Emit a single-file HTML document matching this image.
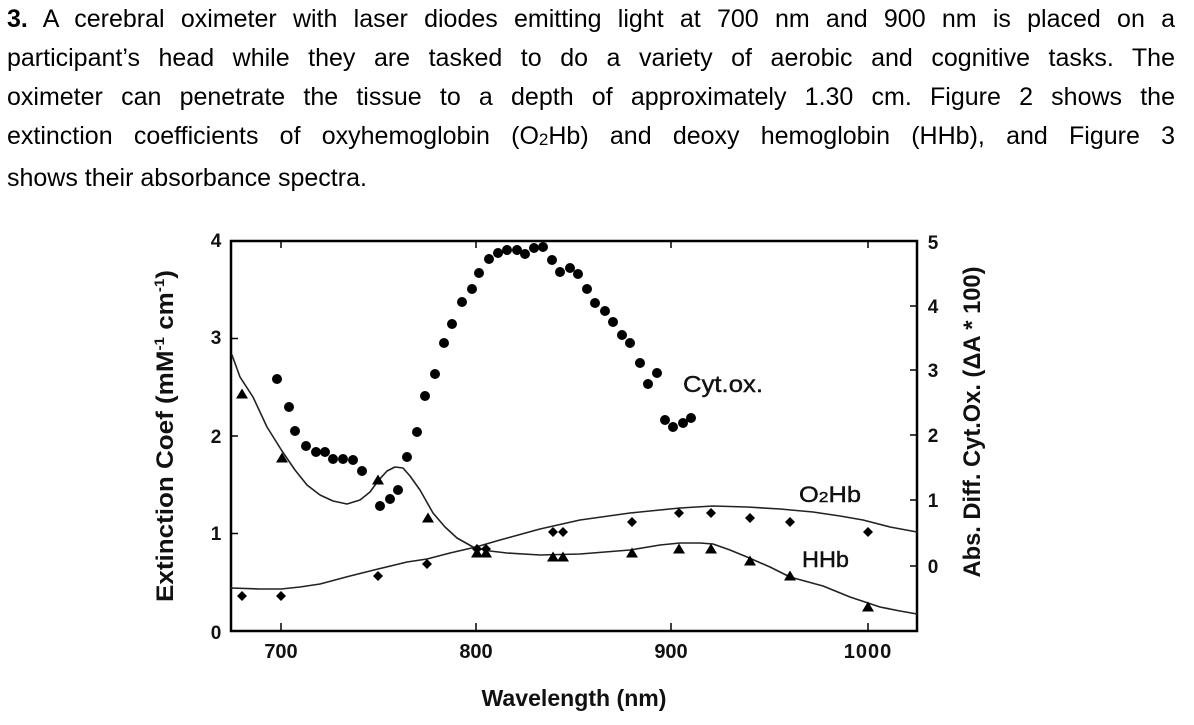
<!DOCTYPE html>
<html>
<head>
<meta charset="utf-8">
<style>
  html,body{margin:0;padding:0;background:#fff;}
  body{width:1194px;height:725px;overflow:hidden;position:relative;}
  .para{position:absolute;left:7px;top:0;width:1168px;font-family:"Liberation Sans",sans-serif;font-size:25px;line-height:39px;letter-spacing:0;color:#000;}
  .j{text-align:justify;text-align-last:justify;}
  .l{text-align:left;}
  .sub{font-size:17px;vertical-align:-1px;}
  svg{position:absolute;left:0;top:0;}
  svg text{font-family:"Liberation Sans",sans-serif;fill:#111;}
</style>
</head>
<body>
<div class="para">
  <div class="j"><b>3.</b> A cerebral oximeter with laser diodes emitting light at 700 nm and 900 nm is placed on a</div>
  <div class="j">participant’s head while they are tasked to do a variety of aerobic and cognitive tasks. The</div>
  <div class="j">oximeter can penetrate the tissue to a depth of approximately 1.30 cm. Figure 2 shows the</div>
  <div class="j">extinction coefficients of oxyhemoglobin (O<span class="sub">2</span>Hb) and deoxy hemoglobin (HHb), and Figure 3</div>
  <div class="l">shows their absorbance spectra.</div>
</div>

<svg width="1194" height="725" viewBox="0 0 1194 725" xmlns="http://www.w3.org/2000/svg">
  <rect x="231" y="241" width="686" height="390" fill="none" stroke="#000" stroke-width="2.5"/>
  <path d="M281 631V623M476 631V623M671 631V623M868 631V623
           M281 241V248M476 241V248M671 241V248M868 241V248
           M231 338.5H238M231 436H238M231 533.5H238
           M917 306H910M917 370H910M917 435H910M917 500H910M917 566H910"
        stroke="#000" stroke-width="1.5" fill="none"/>

  <g font-size="19" font-weight="bold" text-anchor="middle">
    <text x="216" y="247">4</text>
    <text x="216" y="344">3</text>
    <text x="216" y="443">2</text>
    <text x="216" y="540">1</text>
    <text x="216" y="639">0</text>
  </g>
  <g font-size="19" font-weight="bold" text-anchor="middle">
    <text x="933" y="249">5</text>
    <text x="933" y="313">4</text>
    <text x="933" y="377">3</text>
    <text x="933" y="442">2</text>
    <text x="933" y="507">1</text>
    <text x="933" y="573">0</text>
  </g>
  <g font-size="20" font-weight="bold" text-anchor="middle">
    <text x="281" y="658">700</text>
    <text x="476" y="658">800</text>
    <text x="671" y="658">900</text>
    <text x="868" y="658" letter-spacing="1">1000</text>
  </g>

  <text x="574" y="706" font-size="23" font-weight="bold" text-anchor="middle" textLength="185" lengthAdjust="spacingAndGlyphs">Wavelength (nm)</text>
  <text transform="translate(173,436) rotate(-90)" font-size="24" font-weight="bold" text-anchor="middle" textLength="332" lengthAdjust="spacingAndGlyphs">Extinction Coef (mM<tspan font-size="14" dy="-9">-1</tspan><tspan dy="9"> cm</tspan><tspan font-size="14" dy="-9">-1</tspan><tspan dy="9">)</tspan></text>
  <text transform="translate(980,422) rotate(-90)" font-size="24" font-weight="bold" text-anchor="middle" textLength="311" lengthAdjust="spacingAndGlyphs">Abs. Diff. Cyt.Ox. (ΔA * 100)</text>

  <g stroke="#111" stroke-width="0.4">
  <text x="683" y="392" font-size="23" textLength="80" lengthAdjust="spacingAndGlyphs">Cyt.ox.</text>
  <text x="799" y="502" font-size="22" textLength="62" lengthAdjust="spacingAndGlyphs">O<tspan font-size="15">2</tspan>Hb</text>
  <text x="802" y="567" font-size="22" textLength="47" lengthAdjust="spacingAndGlyphs">HHb</text>
  </g>

  <polyline fill="none" stroke="#222" stroke-width="1.6" stroke-linejoin="round" stroke-linecap="round"
    points="232,355 240,377 253,397 267,427 282,451 295,470 307,485 320,495 333,501 347,504 360,500 370,492 378,481 387,471 395,467 403,468 410,476 420,490 433,513 445,527 457,538 473,547 490,551 507,553 540,555 580,554 630,550 660,545 680,543 700,543 713,544 730,550 747,557 770,567 790,577 823,586 850,597 880,607 900,611 917,614"/>
  <polyline fill="none" stroke="#222" stroke-width="1.6" stroke-linejoin="round" stroke-linecap="round"
    points="231,588 260,589 281,589 300,587 320,584 350,576 378,569 407,562 427,559 450,553 476,547 500,540 540,529 580,520 630,513 680,508 713,506 747,507 780,509 813,512 840,516 863,520 890,527 917,532"/>

  <g fill="#000">
    <path d="M242 591l5 5-5 5-5-5z"/>
    <path d="M281 591l5 5-5 5-5-5z"/>
    <path d="M378 571l5 5-5 5-5-5z"/>
    <path d="M427 559l5 5-5 5-5-5z"/>
    <path d="M477 544l5 5-5 5-5-5z"/>
    <path d="M486 544l5 5-5 5-5-5z"/>
    <path d="M553 527l5 5-5 5-5-5z"/>
    <path d="M563 527l5 5-5 5-5-5z"/>
    <path d="M632 517l5 5-5 5-5-5z"/>
    <path d="M679 508l5 5-5 5-5-5z"/>
    <path d="M711 508l5 5-5 5-5-5z"/>
    <path d="M750 513l5 5-5 5-5-5z"/>
    <path d="M790 517l5 5-5 5-5-5z"/>
    <path d="M868 527l5 5-5 5-5-5z"/>
  </g>

  <g fill="#000">
    <path d="M242 388.5l6 10h-12z"/>
    <path d="M282 452.5l6 10h-12z"/>
    <path d="M378 474.5l6 10h-12z"/>
    <path d="M428 512.5l6 10h-12z"/>
    <path d="M477 547.5l6 10h-12z"/>
    <path d="M486 547.5l6 10h-12z"/>
    <path d="M553 551.5l6 10h-12z"/>
    <path d="M563 551.5l6 10h-12z"/>
    <path d="M632 547.5l6 10h-12z"/>
    <path d="M679 543.5l6 10h-12z"/>
    <path d="M711 543.5l6 10h-12z"/>
    <path d="M750 555.5l6 10h-12z"/>
    <path d="M790 570.5l6 10h-12z"/>
    <path d="M868 601.5l6 10h-12z"/>
  </g>

  <g fill="#000">
    <circle cx="277" cy="379" r="5"/>
    <circle cx="289" cy="407" r="5"/>
    <circle cx="295" cy="431" r="5"/>
    <circle cx="306" cy="446" r="5"/>
    <circle cx="316" cy="452" r="5"/>
    <circle cx="325" cy="452" r="5"/>
    <circle cx="333" cy="459" r="5"/>
    <circle cx="343" cy="459" r="5"/>
    <circle cx="353" cy="460" r="5"/>
    <circle cx="362" cy="471" r="5"/>
    <circle cx="380" cy="506" r="5"/>
    <circle cx="390" cy="499" r="5"/>
    <circle cx="398" cy="490" r="5"/>
    <circle cx="407" cy="457" r="5"/>
    <circle cx="417" cy="432" r="5"/>
    <circle cx="425" cy="396" r="5"/>
    <circle cx="435" cy="374" r="5"/>
    <circle cx="444" cy="343" r="5"/>
    <circle cx="452" cy="324" r="5"/>
    <circle cx="462" cy="302" r="5"/>
    <circle cx="472" cy="289" r="5"/>
    <circle cx="479" cy="273" r="5"/>
    <circle cx="489" cy="259" r="5"/>
    <circle cx="498" cy="253" r="5"/>
    <circle cx="507" cy="250" r="5"/>
    <circle cx="517" cy="250" r="5"/>
    <circle cx="525" cy="254" r="5"/>
    <circle cx="534" cy="248" r="5"/>
    <circle cx="543" cy="247" r="5"/>
    <circle cx="552" cy="260" r="5"/>
    <circle cx="560" cy="272" r="5"/>
    <circle cx="570" cy="268" r="5"/>
    <circle cx="578" cy="274" r="5"/>
    <circle cx="587" cy="289" r="5"/>
    <circle cx="595" cy="303" r="5"/>
    <circle cx="605" cy="311" r="5"/>
    <circle cx="613" cy="322" r="5"/>
    <circle cx="622" cy="335" r="5"/>
    <circle cx="630" cy="343" r="5"/>
    <circle cx="640" cy="363" r="5"/>
    <circle cx="648" cy="384" r="5"/>
    <circle cx="657" cy="373" r="5"/>
    <circle cx="665" cy="420" r="5"/>
    <circle cx="673" cy="427" r="5"/>
    <circle cx="683" cy="423" r="5"/>
    <circle cx="691" cy="418" r="5"/>
  </g>
</svg>
</body>
</html>
